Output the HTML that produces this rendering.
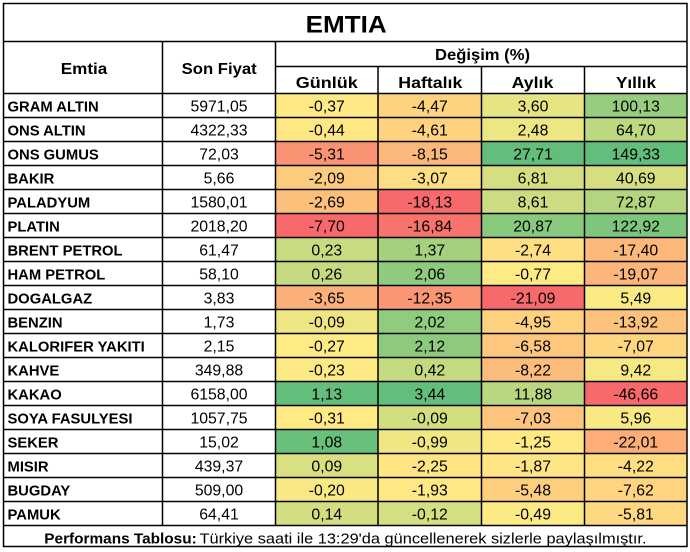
<!DOCTYPE html>
<html><head><meta charset="utf-8">
<style>
html,body{margin:0;padding:0;background:#fff;width:690px;height:552px;overflow:hidden}
svg{display:block}
text{font-family:"Liberation Sans",Arial,sans-serif;fill:#000}
.h{font-weight:bold;font-size:16px}
.n{font-weight:bold;font-size:14.8px}
.v{font-size:15.8px}
</style></head><body>
<svg width="690" height="552" viewBox="0 0 690 552" xmlns="http://www.w3.org/2000/svg">
<rect x="0" y="0" width="690" height="552" fill="#fff"/>
<g>
<rect x="275.5" y="93.5" width="102.5" height="24" fill="#FFE984"/><rect x="378" y="93.5" width="103.5" height="24" fill="#FED37F"/><rect x="481.5" y="93.5" width="103" height="24" fill="#E6E483"/><rect x="584.5" y="93.5" width="102.5" height="24" fill="#97CD7E"/>
<rect x="275.5" y="117.5" width="102.5" height="24" fill="#FFE883"/><rect x="378" y="117.5" width="103.5" height="24" fill="#FED27F"/><rect x="481.5" y="117.5" width="103" height="24" fill="#ECE683"/><rect x="584.5" y="117.5" width="102.5" height="24" fill="#BCD880"/>
<rect x="275.5" y="141.5" width="102.5" height="24" fill="#FA9373"/><rect x="378" y="141.5" width="103.5" height="24" fill="#FCB77A"/><rect x="481.5" y="141.5" width="103" height="24" fill="#63BE7B"/><rect x="584.5" y="141.5" width="102.5" height="24" fill="#63BE7B"/>
<rect x="275.5" y="165.5" width="102.5" height="24" fill="#FDCB7E"/><rect x="378" y="165.5" width="103.5" height="24" fill="#FEDE82"/><rect x="481.5" y="165.5" width="103" height="24" fill="#D5DF82"/><rect x="584.5" y="165.5" width="102.5" height="24" fill="#D5DF82"/>
<rect x="275.5" y="189.5" width="102.5" height="24" fill="#FDC07C"/><rect x="378" y="189.5" width="103.5" height="24" fill="#F8696B"/><rect x="481.5" y="189.5" width="103" height="24" fill="#CBDC81"/><rect x="584.5" y="189.5" width="102.5" height="24" fill="#B3D580"/>
<rect x="275.5" y="213.5" width="102.5" height="24" fill="#F8696B"/><rect x="378" y="213.5" width="103.5" height="24" fill="#F9736D"/><rect x="481.5" y="213.5" width="103" height="24" fill="#88C97D"/><rect x="584.5" y="213.5" width="102.5" height="24" fill="#7FC67D"/>
<rect x="275.5" y="237.5" width="102.5" height="24" fill="#C9DB81"/><rect x="378" y="237.5" width="103.5" height="24" fill="#A5D17F"/><rect x="481.5" y="237.5" width="103" height="24" fill="#FEE082"/><rect x="584.5" y="237.5" width="102.5" height="24" fill="#FCB97A"/>
<rect x="275.5" y="261.5" width="102.5" height="24" fill="#C5DA81"/><rect x="378" y="261.5" width="103.5" height="24" fill="#8FCB7E"/><rect x="481.5" y="261.5" width="103" height="24" fill="#FEEB84"/><rect x="584.5" y="261.5" width="102.5" height="24" fill="#FCB57A"/>
<rect x="275.5" y="285.5" width="102.5" height="24" fill="#FCB079"/><rect x="378" y="285.5" width="103.5" height="24" fill="#FA9674"/><rect x="481.5" y="285.5" width="103" height="24" fill="#F8696B"/><rect x="584.5" y="285.5" width="102.5" height="24" fill="#FAEA84"/>
<rect x="275.5" y="309.5" width="102.5" height="24" fill="#EDE683"/><rect x="378" y="309.5" width="103.5" height="24" fill="#90CB7E"/><rect x="481.5" y="309.5" width="103" height="24" fill="#FED17F"/><rect x="584.5" y="309.5" width="102.5" height="24" fill="#FDC37C"/>
<rect x="275.5" y="333.5" width="102.5" height="24" fill="#FFEB84"/><rect x="378" y="333.5" width="103.5" height="24" fill="#8DCA7D"/><rect x="481.5" y="333.5" width="103" height="24" fill="#FDC77D"/><rect x="584.5" y="333.5" width="102.5" height="24" fill="#FED680"/>
<rect x="275.5" y="357.5" width="102.5" height="24" fill="#FDEA84"/><rect x="378" y="357.5" width="103.5" height="24" fill="#C3DA81"/><rect x="481.5" y="357.5" width="103" height="24" fill="#FCBC7B"/><rect x="584.5" y="357.5" width="102.5" height="24" fill="#F6E883"/>
<rect x="275.5" y="381.5" width="102.5" height="24" fill="#63BE7B"/><rect x="378" y="381.5" width="103.5" height="24" fill="#63BE7B"/><rect x="481.5" y="381.5" width="103" height="24" fill="#B9D780"/><rect x="584.5" y="381.5" width="102.5" height="24" fill="#F8696B"/>
<rect x="275.5" y="405.5" width="102.5" height="24" fill="#FFEA84"/><rect x="378" y="405.5" width="103.5" height="24" fill="#D3DE81"/><rect x="481.5" y="405.5" width="103" height="24" fill="#FDC47D"/><rect x="584.5" y="405.5" width="102.5" height="24" fill="#F9E984"/>
<rect x="275.5" y="429.5" width="102.5" height="24" fill="#69C07B"/><rect x="378" y="429.5" width="103.5" height="24" fill="#F0E783"/><rect x="481.5" y="429.5" width="103" height="24" fill="#FFE984"/><rect x="584.5" y="429.5" width="102.5" height="24" fill="#FCAD78"/>
<rect x="275.5" y="453.5" width="102.5" height="24" fill="#D9E082"/><rect x="378" y="453.5" width="103.5" height="24" fill="#FFE583"/><rect x="481.5" y="453.5" width="103" height="24" fill="#FFE583"/><rect x="584.5" y="453.5" width="102.5" height="24" fill="#FEDE81"/>
<rect x="275.5" y="477.5" width="102.5" height="24" fill="#F9E984"/><rect x="378" y="477.5" width="103.5" height="24" fill="#FFE783"/><rect x="481.5" y="477.5" width="103" height="24" fill="#FDCE7E"/><rect x="584.5" y="477.5" width="102.5" height="24" fill="#FED480"/>
<rect x="275.5" y="501.5" width="102.5" height="24" fill="#D3DE81"/><rect x="378" y="501.5" width="103.5" height="24" fill="#D4DF82"/><rect x="481.5" y="501.5" width="103" height="24" fill="#FCEA84"/><rect x="584.5" y="501.5" width="102.5" height="24" fill="#FED981"/>
</g>
<g stroke="#000" stroke-width="1.5" fill="none">
<rect x="3.5" y="3.5" width="683.5" height="543"/>
<line x1="3.5" y1="41.5" x2="687" y2="41.5"/>
<line x1="275.5" y1="66.5" x2="687" y2="66.5"/>
<line x1="3.5" y1="93.5" x2="687" y2="93.5"/>
<line x1="3.5" y1="117.5" x2="687" y2="117.5"/>
<line x1="3.5" y1="141.5" x2="687" y2="141.5"/>
<line x1="3.5" y1="165.5" x2="687" y2="165.5"/>
<line x1="3.5" y1="189.5" x2="687" y2="189.5"/>
<line x1="3.5" y1="213.5" x2="687" y2="213.5"/>
<line x1="3.5" y1="237.5" x2="687" y2="237.5"/>
<line x1="3.5" y1="261.5" x2="687" y2="261.5"/>
<line x1="3.5" y1="285.5" x2="687" y2="285.5"/>
<line x1="3.5" y1="309.5" x2="687" y2="309.5"/>
<line x1="3.5" y1="333.5" x2="687" y2="333.5"/>
<line x1="3.5" y1="357.5" x2="687" y2="357.5"/>
<line x1="3.5" y1="381.5" x2="687" y2="381.5"/>
<line x1="3.5" y1="405.5" x2="687" y2="405.5"/>
<line x1="3.5" y1="429.5" x2="687" y2="429.5"/>
<line x1="3.5" y1="453.5" x2="687" y2="453.5"/>
<line x1="3.5" y1="477.5" x2="687" y2="477.5"/>
<line x1="3.5" y1="501.5" x2="687" y2="501.5"/>
<line x1="3.5" y1="525.5" x2="687" y2="525.5"/>
<line x1="162.5" y1="41.5" x2="162.5" y2="525.5"/>
<line x1="275.5" y1="41.5" x2="275.5" y2="525.5"/>
<line x1="378" y1="66.5" x2="378" y2="525.5"/>
<line x1="481.5" y1="66.5" x2="481.5" y2="525.5"/>
<line x1="584.5" y1="66.5" x2="584.5" y2="525.5"/>
</g>
<text x="346.2" y="32.5" text-anchor="middle" font-weight="bold" font-size="24" textLength="81" lengthAdjust="spacingAndGlyphs">EMTIA</text>
<text class="h" x="84" y="74" text-anchor="middle" textLength="46.5" lengthAdjust="spacingAndGlyphs">Emtia</text>
<text class="h" x="219.2" y="74" text-anchor="middle" textLength="75" lengthAdjust="spacingAndGlyphs">Son Fiyat</text>
<text class="h" x="482.5" y="60" text-anchor="middle" textLength="95" lengthAdjust="spacingAndGlyphs">Değişim (%)</text>
<text class="h" x="326.8" y="88" text-anchor="middle" textLength="62" lengthAdjust="spacingAndGlyphs">Günlük</text>
<text class="h" x="430.3" y="88" text-anchor="middle" textLength="64" lengthAdjust="spacingAndGlyphs">Haftalık</text>
<text class="h" x="532.5" y="88" text-anchor="middle" textLength="41.7" lengthAdjust="spacingAndGlyphs">Aylık</text>
<text class="h" x="636" y="88" text-anchor="middle" textLength="40" lengthAdjust="spacingAndGlyphs">Yıllık</text>
<g>
<text class="n" x="7.5" y="111.5">GRAM ALTIN</text>
<text class="n" x="7.5" y="135.5">ONS ALTIN</text>
<text class="n" x="7.5" y="159.5">ONS GUMUS</text>
<text class="n" x="7.5" y="183.5">BAKIR</text>
<text class="n" x="7.5" y="207.5">PALADYUM</text>
<text class="n" x="7.5" y="231.5">PLATIN</text>
<text class="n" x="7.5" y="255.5">BRENT PETROL</text>
<text class="n" x="7.5" y="279.5">HAM PETROL</text>
<text class="n" x="7.5" y="303.5">DOGALGAZ</text>
<text class="n" x="7.5" y="327.5">BENZIN</text>
<text class="n" x="7.5" y="351.5">KALORIFER YAKITI</text>
<text class="n" x="7.5" y="375.5">KAHVE</text>
<text class="n" x="7.5" y="399.5">KAKAO</text>
<text class="n" x="7.5" y="423.5">SOYA FASULYESI</text>
<text class="n" x="7.5" y="447.5">SEKER</text>
<text class="n" x="7.5" y="471.5">MISIR</text>
<text class="n" x="7.5" y="495.5">BUGDAY</text>
<text class="n" x="7.5" y="519.5">PAMUK</text>
</g>
<g text-anchor="middle">
<text class="v" x="219" y="111.5">5971,05</text><text class="v" x="326.8" y="111.5">-0,37</text><text class="v" x="429.8" y="111.5">-4,47</text><text class="v" x="533" y="111.5">3,60</text><text class="v" x="635.8" y="111.5">100,13</text>
<text class="v" x="219" y="135.5">4322,33</text><text class="v" x="326.8" y="135.5">-0,44</text><text class="v" x="429.8" y="135.5">-4,61</text><text class="v" x="533" y="135.5">2,48</text><text class="v" x="635.8" y="135.5">64,70</text>
<text class="v" x="219" y="159.5">72,03</text><text class="v" x="326.8" y="159.5">-5,31</text><text class="v" x="429.8" y="159.5">-8,15</text><text class="v" x="533" y="159.5">27,71</text><text class="v" x="635.8" y="159.5">149,33</text>
<text class="v" x="219" y="183.5">5,66</text><text class="v" x="326.8" y="183.5">-2,09</text><text class="v" x="429.8" y="183.5">-3,07</text><text class="v" x="533" y="183.5">6,81</text><text class="v" x="635.8" y="183.5">40,69</text>
<text class="v" x="219" y="207.5">1580,01</text><text class="v" x="326.8" y="207.5">-2,69</text><text class="v" x="429.8" y="207.5">-18,13</text><text class="v" x="533" y="207.5">8,61</text><text class="v" x="635.8" y="207.5">72,87</text>
<text class="v" x="219" y="231.5">2018,20</text><text class="v" x="326.8" y="231.5">-7,70</text><text class="v" x="429.8" y="231.5">-16,84</text><text class="v" x="533" y="231.5">20,87</text><text class="v" x="635.8" y="231.5">122,92</text>
<text class="v" x="219" y="255.5">61,47</text><text class="v" x="326.8" y="255.5">0,23</text><text class="v" x="429.8" y="255.5">1,37</text><text class="v" x="533" y="255.5">-2,74</text><text class="v" x="635.8" y="255.5">-17,40</text>
<text class="v" x="219" y="279.5">58,10</text><text class="v" x="326.8" y="279.5">0,26</text><text class="v" x="429.8" y="279.5">2,06</text><text class="v" x="533" y="279.5">-0,77</text><text class="v" x="635.8" y="279.5">-19,07</text>
<text class="v" x="219" y="303.5">3,83</text><text class="v" x="326.8" y="303.5">-3,65</text><text class="v" x="429.8" y="303.5">-12,35</text><text class="v" x="533" y="303.5">-21,09</text><text class="v" x="635.8" y="303.5">5,49</text>
<text class="v" x="219" y="327.5">1,73</text><text class="v" x="326.8" y="327.5">-0,09</text><text class="v" x="429.8" y="327.5">2,02</text><text class="v" x="533" y="327.5">-4,95</text><text class="v" x="635.8" y="327.5">-13,92</text>
<text class="v" x="219" y="351.5">2,15</text><text class="v" x="326.8" y="351.5">-0,27</text><text class="v" x="429.8" y="351.5">2,12</text><text class="v" x="533" y="351.5">-6,58</text><text class="v" x="635.8" y="351.5">-7,07</text>
<text class="v" x="219" y="375.5">349,88</text><text class="v" x="326.8" y="375.5">-0,23</text><text class="v" x="429.8" y="375.5">0,42</text><text class="v" x="533" y="375.5">-8,22</text><text class="v" x="635.8" y="375.5">9,42</text>
<text class="v" x="219" y="399.5">6158,00</text><text class="v" x="326.8" y="399.5">1,13</text><text class="v" x="429.8" y="399.5">3,44</text><text class="v" x="533" y="399.5">11,88</text><text class="v" x="635.8" y="399.5">-46,66</text>
<text class="v" x="219" y="423.5">1057,75</text><text class="v" x="326.8" y="423.5">-0,31</text><text class="v" x="429.8" y="423.5">-0,09</text><text class="v" x="533" y="423.5">-7,03</text><text class="v" x="635.8" y="423.5">5,96</text>
<text class="v" x="219" y="447.5">15,02</text><text class="v" x="326.8" y="447.5">1,08</text><text class="v" x="429.8" y="447.5">-0,99</text><text class="v" x="533" y="447.5">-1,25</text><text class="v" x="635.8" y="447.5">-22,01</text>
<text class="v" x="219" y="471.5">439,37</text><text class="v" x="326.8" y="471.5">0,09</text><text class="v" x="429.8" y="471.5">-2,25</text><text class="v" x="533" y="471.5">-1,87</text><text class="v" x="635.8" y="471.5">-4,22</text>
<text class="v" x="219" y="495.5">509,00</text><text class="v" x="326.8" y="495.5">-0,20</text><text class="v" x="429.8" y="495.5">-1,93</text><text class="v" x="533" y="495.5">-5,48</text><text class="v" x="635.8" y="495.5">-7,62</text>
<text class="v" x="219" y="519.5">64,41</text><text class="v" x="326.8" y="519.5">0,14</text><text class="v" x="429.8" y="519.5">-0,12</text><text class="v" x="533" y="519.5">-0,49</text><text class="v" x="635.8" y="519.5">-5,81</text>
</g>
<text x="44.3" y="543.5" font-weight="bold" font-size="15" textLength="152.4" lengthAdjust="spacingAndGlyphs">Performans Tablosu:</text>
<text x="199.5" y="543.5" font-size="15" textLength="447" lengthAdjust="spacingAndGlyphs">Türkiye saati ile 13:29'da güncellenerek sizlerle paylaşılmıştır.</text>
</svg>
</body></html>
